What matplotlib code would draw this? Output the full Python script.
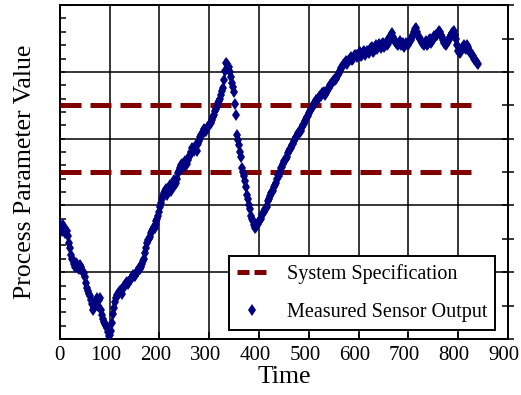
import matplotlib
matplotlib.use('Agg')
from matplotlib import pyplot as plt
from matplotlib import transforms
from matplotlib.lines import Line2D
from matplotlib.ticker import MultipleLocator, NullFormatter

plt.rcParams['font.family'] = ['Liberation Serif', 'DejaVu Serif']

# dados (amostras em t = 0, 4, 8, ...)
tempo = list(range(0, 844, 4))
valor = [
    1.72, 1.62, 1.66, 1.60, 1.54, 1.36, 1.20, 1.12, 1.14, 1.06,
    1.10, 1.02, 0.98, 0.84, 0.72, 0.64, 0.52, 0.46, 0.56, 0.50,
    0.62, 0.36, 0.26, 0.20, 0.10, 0.06, 0.24, 0.46, 0.62, 0.66,
    0.72, 0.68, 0.80, 0.84, 0.82, 0.88, 0.92, 0.94, 0.98, 1.02,
    1.04, 1.12, 1.20, 1.36, 1.48, 1.52, 1.62, 1.68, 1.72, 1.80,
    1.90, 2.04, 2.14, 2.22, 2.16, 2.28, 2.22, 2.34, 2.30, 2.40,
    2.52, 2.60, 2.56, 2.66, 2.62, 2.72, 2.80, 2.84, 2.88, 2.82,
    2.96, 3.06, 3.10, 3.12, 3.16, 3.20, 3.24, 3.32, 3.42, 3.48,
    3.56, 3.66, 3.76, 4.02, 4.12, 4.08, 3.92, 3.78, 3.52, 3.06,
    2.90, 2.72, 2.50, 2.36, 2.16, 2.00, 1.84, 1.76, 1.66, 1.70,
    1.76, 1.80, 1.88, 1.94, 1.98, 2.10, 2.18, 2.22, 2.30, 2.40,
    2.44, 2.56, 2.62, 2.68, 2.72, 2.82, 2.86, 2.92, 3.00, 3.04,
    3.08, 3.12, 3.20, 3.26, 3.32, 3.38, 3.44, 3.50, 3.54, 3.58,
    3.62, 3.64, 3.68, 3.66, 3.72, 3.76, 3.82, 3.86, 3.88, 3.94,
    3.98, 4.06, 4.10, 4.14, 4.12, 4.18, 4.22, 4.20, 4.26, 4.22,
    4.28, 4.24, 4.30, 4.26, 4.32, 4.28, 4.36, 4.30, 4.38, 4.34,
    4.42, 4.36, 4.44, 4.40, 4.46, 4.42, 4.52, 4.58, 4.48, 4.44,
    4.40, 4.46, 4.42, 4.38, 4.44, 4.40, 4.46, 4.52, 4.60, 4.66,
    4.54, 4.50, 4.44, 4.40, 4.46, 4.42, 4.50, 4.46, 4.54, 4.56,
    4.58, 4.60, 4.52, 4.44, 4.40, 4.46, 4.52, 4.58, 4.62, 4.50,
    4.32, 4.28, 4.36, 4.40, 4.34, 4.38, 4.30, 4.26, 4.20, 4.16,
    4.12,
]

# amostras intermediarias (t = 2, 6, 10, ...)
tempo_b = list(range(2, 840, 4))
valor_b = [
    1.64, 1.70, 1.58, 1.62, 1.44, 1.26, 1.18, 1.08, 1.12, 1.04,
    1.08, 1.00, 0.92, 0.76, 0.68, 0.58, 0.44, 0.54, 0.62, 0.58,
    0.44, 0.30, 0.22, 0.16, 0.04, 0.12, 0.38, 0.56, 0.66, 0.70,
    0.74, 0.76, 0.80, 0.86, 0.86, 0.90, 0.96, 0.94, 1.00, 1.06,
    1.08, 1.16, 1.28, 1.44, 1.50, 1.58, 1.64, 1.66, 1.76, 1.84,
    1.98, 2.10, 2.18, 2.24, 2.20, 2.30, 2.26, 2.38, 2.34, 2.48,
    2.56, 2.62, 2.64, 2.60, 2.68, 2.76, 2.86, 2.82, 2.90, 2.92,
    3.02, 3.06, 3.14, 3.12, 3.18, 3.22, 3.28, 3.36, 3.44, 3.54,
    3.60, 3.72, 3.88, 4.14, 4.06, 4.00, 3.84, 3.70, 3.36, 2.98,
    2.80, 2.56, 2.44, 2.28, 2.10, 1.94, 1.80, 1.70, 1.68, 1.72,
    1.78, 1.86, 1.90, 1.96, 2.06, 2.14, 2.20, 2.28, 2.34, 2.46,
    2.50, 2.58, 2.66, 2.70, 2.78, 2.84, 2.90, 2.96, 3.02, 3.08,
    3.10, 3.18, 3.22, 3.30, 3.34, 3.42, 3.46, 3.52, 3.58, 3.60,
    3.64, 3.68, 3.70, 3.68, 3.74, 3.80, 3.84, 3.88, 3.90, 3.96,
    4.02, 4.08, 4.12, 4.16, 4.16, 4.20, 4.18, 4.24, 4.26, 4.24,
    4.30, 4.26, 4.32, 4.28, 4.30, 4.34, 4.38, 4.32, 4.40, 4.38,
    4.40, 4.42, 4.38, 4.44, 4.40, 4.46, 4.56, 4.52, 4.46, 4.42,
    4.44, 4.40, 4.44, 4.40, 4.42, 4.44, 4.48, 4.56, 4.64, 4.60,
    4.52, 4.48, 4.42, 4.44, 4.40, 4.48, 4.44, 4.50, 4.52, 4.56,
    4.62, 4.56, 4.48, 4.42, 4.44, 4.48, 4.56, 4.60, 4.56, 4.40,
    4.30, 4.32, 4.38, 4.36, 4.40, 4.32, 4.28, 4.24, 4.18, 4.14,
]

# especificacao do sistema
espec_x = [0, 840]
espec_inf = 2.5
espec_sup = 3.5

fig = plt.figure(figsize=(5.21, 3.95), dpi=100)
ax = fig.add_axes([0.115, 0.142, 0.860, 0.845])

tracejado = (0, (4.2, 1.8))
ax.plot(espec_x, [espec_sup, espec_sup], color='#800000', lw=3.6,
        linestyle=tracejado, zorder=3)
ax.plot(espec_x, [espec_inf, espec_inf], color='#800000', lw=3.6,
        linestyle=tracejado, zorder=3)
ax.plot(tempo + tempo_b, valor + valor_b, linestyle='none', marker='d',
        markersize=6.5, color='#000080', markeredgewidth=0, zorder=4)

ax.set_xlim(0, 900)
ax.set_ylim(0, 5)
ax.xaxis.set_major_locator(MultipleLocator(100))
ax.yaxis.set_major_locator(MultipleLocator(1))
ax.yaxis.set_minor_locator(MultipleLocator(0.2))
ax.yaxis.set_major_formatter(NullFormatter())
ax.grid(True, which='major', color='black', lw=1.1)
ax.set_axisbelow(True)
ax.tick_params(axis='x', direction='in', length=5, width=1.1,
               labelsize=15, pad=5, colors='black')
ax.tick_params(axis='y', which='both', direction='in', left=True,
               right=False, width=1.1)
ax.tick_params(axis='y', which='minor', length=4)
for s in ax.spines.values():
    s.set_linewidth(1.4)

# eixo da direita com marcas no meio
ax2 = ax.twinx()
ax2.set_ylim(0, 5)
ax2.yaxis.set_major_locator(MultipleLocator(1))
ax2.yaxis.set_minor_locator(MultipleLocator(0.5))
ax2.yaxis.set_major_formatter(NullFormatter())
ax2.tick_params(axis='y', which='both', direction='inout', length=8,
                width=1.1)
for s in ax2.spines.values():
    s.set_visible(False)

ax.set_xlabel('Time', fontsize=18.5, labelpad=1)
ax.set_ylabel('Process Parameter Value', fontsize=18.5, labelpad=14)

h1 = Line2D([], [], color='#800000', lw=3.6, linestyle=(0, (2.4, 1.0)))
h2 = Line2D([], [], color='#000080', linestyle='none', marker='d',
            markersize=6.5, markeredgewidth=0)
leg = ax.legend([h1, h2], ['System Specification', 'Measured Sensor Output'],
                loc='lower right', bbox_to_anchor=(0.971, 0.027),
                borderaxespad=0, fontsize=14.5, labelspacing=0.95,
                handlelength=1.45, handletextpad=1.0, borderpad=0.4,
                fancybox=False, framealpha=1, edgecolor='black')
leg.get_frame().set_linewidth(1.4)
leg.set_zorder(10)

# rotulos de 3 digitos um pouco para a esquerda, como no original
fig.canvas.draw()
desloca = transforms.ScaledTranslation(-4 / 100, 0, fig.dpi_scale_trans)
for tick in ax.xaxis.get_major_ticks():
    if tick.get_loc() >= 100:
        tick.label1.set_transform(tick.label1.get_transform() + desloca)

fig.savefig('out.png', dpi=100)
